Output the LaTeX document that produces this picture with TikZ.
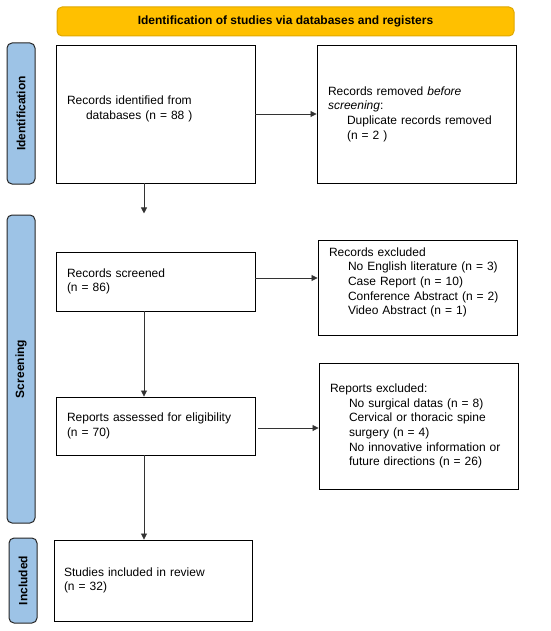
\documentclass[tikz,border=0pt]{standalone}
\usepackage{fontspec}
\setmainfont{Liberation Sans}
\usetikzlibrary{arrows.meta,calc}
\definecolor{barorange}{HTML}{FFC000}
\definecolor{barorangeline}{HTML}{E0A800}
\definecolor{barblue}{HTML}{9DC3E6}
\newcommand{\indline}{\hspace*{19pt}}
\begin{document}
\begin{tikzpicture}[x=1pt,y=-1pt,
    box/.style={draw, line width=0.9pt, inner xsep=11pt, text width=177pt, align=left, font=\fontsize{12}{14.7}\selectfont},
    side/.style={draw=black!85, fill=barblue, rounded corners=5pt, line width=1pt, rotate=90, minimum height=28pt, font=\bfseries\fontsize{12}{14}\selectfont},
    arr/.style={-{Triangle[length=6pt,width=6pt]}, draw=black!80, line width=0.8pt}]
    \useasboundingbox (0,0) rectangle (550,631);
    \node[draw=barorangeline, fill=barorange, rounded corners=5pt, line width=1pt, minimum width=457pt, minimum height=29pt, font=\bfseries\fontsize{12}{14}\selectfont] (head) at (285.5,21.5) {Identification of studies via databases and registers};
    \node[side, minimum width=141pt] (sideid) at (21,113.5) {Identification};
    \node[side, minimum width=308pt] (sidescr) at (21,369) {Screening};
    \node[side, minimum width=85pt] (sideinc) at (23,580.5) {Included};
    \node[box, minimum height=138pt] (ident) at (155.5,114) {Records identified from\\\indline databases (n = 88 )\\[-2pt]\mbox{}};
    \node[box, minimum height=138pt] (removed) at (416.5,114) {Records removed \textit{before}\\\textit{screening}:\\\indline Duplicate records removed\\\indline (n = 2 )};
    \node[box, minimum height=59pt] (screened) at (155.5,281.5) {Records screened\\(n = 86)};
    \node[box, minimum height=95pt] (excluded) at (417.5,287.5) {Records excluded\\\indline No English literature (n = 3)\\\indline Case Report (n = 10)\\\indline Conference Abstract (n = 2)\\\indline Video Abstract (n = 1)\\[-2pt]\mbox{}};
    \node[box, minimum height=58pt] (assessed) at (155.5,426) {Reports assessed for eligibility\\(n = 70)};
    \node[box, minimum height=126pt] (repexcl) at (418.5,426) {Reports excluded:\\\indline No surgical datas (n = 8)\\\indline Cervical or thoracic spine\\\indline surgery (n = 4)\\\indline No innovative information or\\\indline future directions (n = 26)};
    \node[box, minimum height=81pt, inner xsep=10pt, text width=178pt] (included) at (153,580.5) {Studies included in review\\(n = 32)};
    \coordinate (gap) at ($(ident.south)+(-11.5,30)$);
    \draw[arr] ([xshift=-11.5pt]ident.south) -- (gap);
    \draw[arr] (ident.east) -- (removed.west);
    \draw[arr] ([yshift=3.5pt]screened.east) -- ([yshift=3.5pt]screened.east -| excluded.west);
    \draw[arr] ([xshift=-11.5pt]screened.south) -- ([xshift=-11.5pt]screened.south |- assessed.north);
    \draw[arr] ([xshift=3pt,yshift=-2pt]assessed.east) -- ([yshift=-2pt]assessed.east -| repexcl.west);
    \draw[arr] ([xshift=-11.5pt]assessed.south) -- ([xshift=-11.5pt]assessed.south |- included.north);
\end{tikzpicture}
\end{document}
